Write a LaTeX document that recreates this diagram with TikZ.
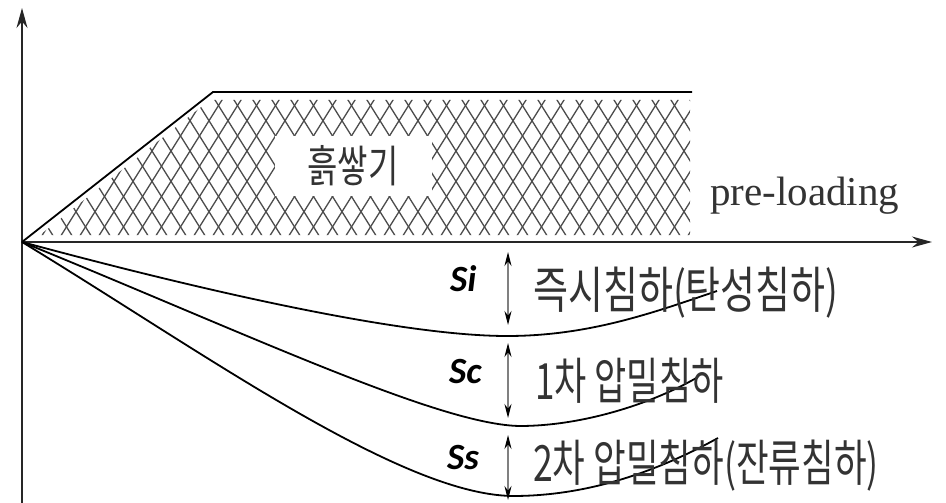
\documentclass[tikz,border=0pt]{standalone}
\usepackage{fontspec}
\usepackage{graphicx}
\setmainfont{Liberation Serif}
\newfontfamily\korfont{Noto Sans CJK KR}
\newfontfamily\lblfont{Carlito}
\usetikzlibrary{arrows.meta}
\newcommand{\krtext}[3]{\scalebox{#1}[1]{\fontsize{#2}{#2}\selectfont\korfont #3}}
\begin{document}
\begin{tikzpicture}[x=1pt, y=-1pt, >={Stealth[length=20pt,width=11pt]},
    axis/.style={line width=1.6pt, draw=black!85},
    curve/.style={line width=1.8pt},
    hatchline/.style={line width=1.3pt, draw=black!70},
    settle/.style={<->, line width=1.1pt, draw=black!50, >={Stealth[length=14pt,width=7pt,color=black]}},
    symlabel/.style={anchor=base west, inner sep=0pt, font=\lblfont\fontsize{37}{37}\selectfont\bfseries\itshape},
    desc/.style={anchor=west, inner sep=0pt, text=black!80}]
    \useasboundingbox (0,0) rectangle (946,503);
    % Defining the coordinates
    \coordinate (O) at (22,242);
    \coordinate (Ytip) at (22,8);
    \coordinate (Ybot) at (22,503);
    \coordinate (Xtip) at (932,242);
    \coordinate (A) at (213,92);
    \coordinate (B) at (692,92);
    \coordinate (imin) at (507,336);
    \coordinate (iend) at (717,291);
    \coordinate (cmin) at (520,426);
    \coordinate (cend) at (698,377);
    \coordinate (smin) at (513,496);
    \coordinate (send) at (718,438);
    \coordinate (axisS) at (508,242);

    % Crosshatch of the fill
    \begin{scope}
        \clip (40,235) -- (210,100) -- (690,100) -- (690,235) -- cycle;
        \foreach \i in {-12,...,42} {
            \draw[hatchline] (\i*19,242) -- ++(94,-150);
            \draw[hatchline] (\i*19,242) -- ++(-94,-150);
        }
    \end{scope}
    \node[fill=white, minimum width=157pt, minimum height=60pt, inner sep=0pt, text=black!80] (fill) at (353,166) {\krtext{0.75}{44pt}{흙쌓기}};

    % Axes and load line
    \draw[axis, ->] (Ybot) -- (Ytip);
    \draw[axis, ->] (O) -- (Xtip);
    \draw[curve] (O) -- (A) -- (B);

    % Settlement curves
    \draw[curve] (O) .. controls (200,290) and (400,336) .. (imin) .. controls (590,336) and (655,312) .. (iend);
    \draw[curve] (O) .. controls (250,335) and (440,425) .. (cmin) .. controls (580,426) and (650,405) .. (cend);
    \draw[curve] (O) .. controls (200,350) and (400,495) .. (smin) .. controls (590,496) and (660,470) .. (send);

    % Settlement arrows
    \draw[settle, shorten <=10pt, shorten >=11pt] (axisS) -- (axisS |- imin);
    \draw[settle, shorten <=7pt, shorten >=8pt] (axisS |- imin) -- (axisS |- cmin);
    \draw[settle, shorten <=9pt, shorten >=-4pt] (axisS |- cmin) -- (axisS |- smin);

    % Adding labels
    \node[anchor=base west, inner sep=0pt, text=black!80, font=\fontsize{41}{41}\selectfont] (pre) at (710,205) {pre-loading};
    \node[symlabel] (Si) at (450,291) {Si};
    \node[symlabel] (Sc) at (449,383) {Sc};
    \node[symlabel] (Ss) at (447,469) {Ss};
    \node[desc] (tSi) at (533,293) {\krtext{0.76}{50pt}{즉시침하(탄성침하)}};
    \node[desc] (tSc) at (535,381) {\krtext{0.70}{50pt}{1차 압밀침하}};
    \node[desc] (tSs) at (533,466) {\krtext{0.71}{50pt}{2차 압밀침하(잔류침하)}};
\end{tikzpicture}
\end{document}
